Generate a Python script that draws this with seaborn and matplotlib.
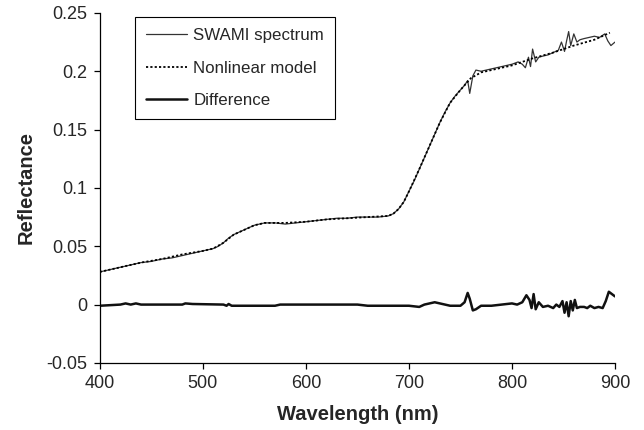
import pandas as pd
import seaborn as sns
import matplotlib
matplotlib.use("Agg")
import matplotlib.pyplot as plt

# SWAMI measured spectrum
spec_wl = [400, 410, 420, 430, 440, 450, 460, 470, 480, 490, 500, 510, 515, 520, 525,
           530, 540, 550, 560, 570, 580, 590, 600, 610, 620, 630, 640, 650, 660, 670,
           680, 685, 690, 695, 700, 705, 710, 715, 720, 725, 730, 735, 740, 745, 750,
           754, 757, 759, 762, 765, 770, 780, 790, 800, 806, 810, 813, 816, 818, 820,
           823, 826, 830, 835, 840, 845, 848, 851, 853, 855, 857, 860, 863, 866, 870,
           875, 880, 885, 890, 893, 896, 900]
spec_r = [0.028, 0.030, 0.032, 0.034, 0.036, 0.037, 0.039, 0.040, 0.042, 0.044, 0.046,
          0.048, 0.050, 0.053, 0.057, 0.060, 0.064, 0.068, 0.070, 0.070, 0.069, 0.070,
          0.071, 0.072, 0.073, 0.074, 0.074, 0.075, 0.075, 0.075, 0.076, 0.078, 0.082,
          0.088, 0.097, 0.106, 0.116, 0.126, 0.136, 0.146, 0.156, 0.165, 0.173, 0.179,
          0.184, 0.188, 0.192, 0.181, 0.196, 0.201, 0.200, 0.202, 0.204, 0.206, 0.208,
          0.206, 0.203, 0.212, 0.204, 0.219, 0.208, 0.212, 0.213, 0.214, 0.216, 0.218,
          0.225, 0.217, 0.226, 0.234, 0.222, 0.232, 0.225, 0.227, 0.228, 0.229, 0.230,
          0.229, 0.232, 0.226, 0.222, 0.225]

# nonlinear model fit
model_wl = [400, 420, 440, 460, 480, 500, 510, 520, 530, 540, 550, 560, 580, 600, 620,
            640, 660, 680, 685, 690, 695, 700, 710, 720, 730, 740, 750, 760, 770, 780,
            800, 820, 840, 860, 880, 890, 895]
model_r = [0.028, 0.032, 0.036, 0.039, 0.043, 0.046, 0.048, 0.053, 0.060, 0.064, 0.068,
           0.070, 0.070, 0.071, 0.073, 0.074, 0.075, 0.076, 0.078, 0.082, 0.088, 0.097,
           0.116, 0.136, 0.156, 0.173, 0.184, 0.194, 0.199, 0.201, 0.205, 0.211, 0.216,
           0.222, 0.227, 0.231, 0.233]

# difference between spectrum and model
diff_wl = [400, 420, 425, 430, 435, 440, 480, 483, 490, 520, 523, 525, 528, 570, 575,
           600, 650, 660, 700, 710, 715, 720, 725, 730, 740, 750, 754, 757, 759, 762,
           765, 770, 780, 790, 800, 805, 810, 814, 817, 819, 821, 823, 826, 830, 835,
           840, 843, 846, 849, 851, 853, 855, 857, 859, 861, 863, 866, 870, 873, 876,
           880, 884, 888, 891, 894, 897, 900]
diff_r = [-0.001, 0.000, 0.001, 0.000, 0.001, 0.000, 0.000, 0.001, 0.0005, 0.000, -0.001,
          0.0005, -0.001, -0.001, 0.000, 0.000, 0.000, -0.001, -0.001, -0.002, 0.000, 0.001,
          0.002, 0.001, -0.001, -0.001, 0.002, 0.010, 0.005, -0.005, -0.004, -0.001, -0.001,
          0.000, 0.001, 0.000, 0.002, 0.008, 0.004, -0.003, 0.009, -0.004, 0.002, -0.002,
          -0.001, -0.003, 0.000, -0.002, 0.003, -0.007, 0.002, -0.010, 0.003, -0.005, 0.004,
          -0.003, -0.002, -0.002, -0.003, -0.001, -0.003, -0.002, -0.003, 0.003, 0.011,
          0.009, 0.007]

spec = pd.DataFrame({"wl": spec_wl, "r": spec_r})
model = pd.DataFrame({"wl": model_wl, "r": model_r})
diff = pd.DataFrame({"wl": diff_wl, "r": diff_r})

sns.set_style("ticks")
plt.rcParams["font.family"] = ["Liberation Sans", "DejaVu Sans"]

fig = plt.figure(figsize=(6.44, 4.30), dpi=100)
ax = fig.add_axes([0.155, 0.156, 0.800, 0.814])

sns.lineplot(data=spec, x="wl", y="r", ax=ax, color="#333333", lw=0.9,
             label="SWAMI spectrum")
sns.lineplot(data=model, x="wl", y="r", ax=ax, color="black", lw=1.3,
             linestyle=(0, (1.2, 1.2)), label="Nonlinear model")
sns.lineplot(data=diff, x="wl", y="r", ax=ax, color="#111111", lw=1.8,
             label="Difference")

ax.set_xlim(400, 900)
ax.set_ylim(-0.05, 0.25)
ax.set_xticks([400, 500, 600, 700, 800, 900])
ax.set_yticks([-0.05, 0, 0.05, 0.1, 0.15, 0.2, 0.25])
ax.set_yticklabels(["-0.05", "0", "0.05", "0.1", "0.15", "0.2", "0.25"])
ax.tick_params(labelsize=13, length=4.5, width=0.9, color="black", pad=4.5)
ax.set_xlabel("Wavelength (nm)", fontsize=14.5, fontweight="bold", labelpad=9)
ax.set_ylabel("Reflectance", fontsize=14.5, fontweight="bold", labelpad=8)
for s in ["left", "bottom"]:
    ax.spines[s].set_linewidth(0.9)
    ax.spines[s].set_color("black")
sns.despine(ax=ax)

leg = ax.legend(loc="upper left", bbox_to_anchor=(0.068, 0.989), borderaxespad=0,
                fontsize=12.2, frameon=True, fancybox=False, edgecolor="black",
                framealpha=1, handlelength=2.4, handletextpad=0.4, labelspacing=1.05,
                borderpad=0.65)
leg.get_frame().set_linewidth(0.8)

fig.savefig("out.png", dpi=100)
